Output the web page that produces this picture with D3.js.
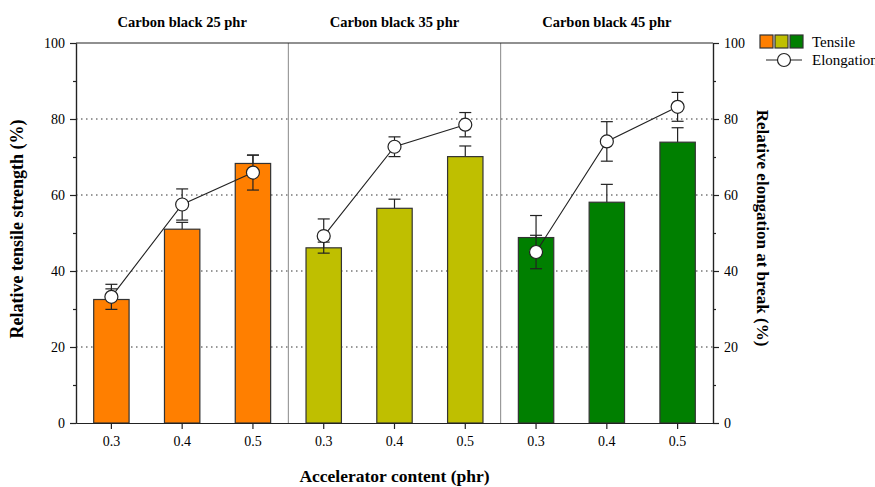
<!DOCTYPE html>
<html>
<head>
<meta charset="utf-8">
<script src="https://cdn.jsdelivr.net/npm/d3@7"></script>
<style>
  body { margin: 0; background: #fff; }
  svg { display: block; }
</style>
</head>
<body>
<div id="chart"></div>
<script>
// chart values
const groups = ["Carbon black 25 phr", "Carbon black 35 phr", "Carbon black 45 phr"];
const accelerator = ["0.3", "0.4", "0.5"];
const tensile = [32.5, 51.0, 68.3, 46.1, 56.5, 70.1, 48.8, 58.1, 73.9];
const tensileErr = [2.8, 1.8, 2.2, 1.5, 2.4, 2.8, 5.8, 4.7, 3.8];
const elongation = [33.2, 57.5, 65.9, 49.2, 72.7, 78.5, 45.0, 74.1, 83.2];
const elongationErr = [3.3, 4.1, 4.6, 4.5, 2.6, 3.2, 4.4, 5.2, 3.8];
const groupColors = ["#ff7f00", "#bfbf00", "#007f00"];
const yTicks = [0, 20, 40, 60, 80, 100];

// appearance settings
const settings = {
  width: 875,
  height: 487,
  left: 76,
  right: 713,
  top: 43,
  bottom: 423,
  font: "'Liberation Serif', 'Times New Roman', serif",
  capWidth: 12,
  circleRadius: 6.5,
};

function drawChart() {
  const svg = d3.select("#chart").append("svg")
    .attr("width", settings.width)
    .attr("height", settings.height)
    .style("font-family", settings.font);

  // one row per bar position
  const rows = [];
  groups.forEach((g, gi) => {
    accelerator.forEach((a, ai) => {
      const i = gi * accelerator.length + ai;
      rows.push({
        key: gi + "-" + a, group: gi, label: a,
        tensile: tensile[i], tErr: tensileErr[i],
        elong: elongation[i], eErr: elongationErr[i],
      });
    });
  });

  const x = d3.scaleBand()
    .domain(rows.map(d => d.key))
    .range([settings.left, settings.right])
    .paddingInner(0.5)
    .paddingOuter(0.25);
  const y = d3.scaleLinear().domain([0, 100]).range([settings.bottom, settings.top]);
  const y2 = d3.scaleLinear().domain([0, 100]).range([settings.bottom, settings.top]);
  const step = x.step();
  const cx = d => x(d.key) + x.bandwidth() / 2;

  // dotted grid lines
  svg.append("g").selectAll("line")
    .data([20, 40, 60, 80])
    .join("line")
    .attr("x1", settings.left).attr("x2", settings.right)
    .attr("y1", d => y(d)).attr("y2", d => y(d))
    .attr("stroke", "#333")
    .attr("stroke-width", 1)
    .attr("stroke-dasharray", "1.5,3.5");

  // group separators
  const seps = [1, 2].map(k => settings.left + step * 3 * k);
  svg.append("g").selectAll("line")
    .data(seps)
    .join("line")
    .attr("x1", d => d).attr("x2", d => d)
    .attr("y1", settings.top).attr("y2", settings.bottom)
    .attr("stroke", "#888").attr("stroke-width", 1);

  // tensile error bars (upward only)
  const tErrG = svg.append("g").attr("stroke", "#222").attr("stroke-width", 1.2);
  tErrG.selectAll("line.v").data(rows).join("line").attr("class", "v")
    .attr("x1", cx).attr("x2", cx)
    .attr("y1", d => y(d.tensile)).attr("y2", d => y(d.tensile + d.tErr));
  tErrG.selectAll("line.c").data(rows).join("line").attr("class", "c")
    .attr("x1", d => cx(d) - settings.capWidth / 2).attr("x2", d => cx(d) + settings.capWidth / 2)
    .attr("y1", d => y(d.tensile + d.tErr)).attr("y2", d => y(d.tensile + d.tErr));

  // bars
  svg.append("g").selectAll("rect")
    .data(rows)
    .join("rect")
    .attr("x", d => x(d.key))
    .attr("y", d => y(d.tensile))
    .attr("width", x.bandwidth())
    .attr("height", d => y(0) - y(d.tensile))
    .attr("fill", d => groupColors[d.group])
    .attr("stroke", "#333")
    .attr("stroke-width", 1.2);

  // elongation error bars
  const eErrG = svg.append("g").attr("stroke", "#222").attr("stroke-width", 1.2);
  eErrG.selectAll("line.v").data(rows).join("line").attr("class", "v")
    .attr("x1", cx).attr("x2", cx)
    .attr("y1", d => y2(d.elong - d.eErr)).attr("y2", d => y2(d.elong + d.eErr));
  eErrG.selectAll("line.hi").data(rows).join("line").attr("class", "hi")
    .attr("x1", d => cx(d) - settings.capWidth / 2).attr("x2", d => cx(d) + settings.capWidth / 2)
    .attr("y1", d => y2(d.elong + d.eErr)).attr("y2", d => y2(d.elong + d.eErr));
  eErrG.selectAll("line.lo").data(rows).join("line").attr("class", "lo")
    .attr("x1", d => cx(d) - settings.capWidth / 2).attr("x2", d => cx(d) + settings.capWidth / 2)
    .attr("y1", d => y2(d.elong - d.eErr)).attr("y2", d => y2(d.elong - d.eErr));

  // elongation lines, one per group
  const line = d3.line().x(cx).y(d => y2(d.elong));
  svg.append("g").selectAll("path")
    .data(groups.map((g, gi) => rows.filter(r => r.group === gi)))
    .join("path")
    .attr("d", line)
    .attr("fill", "none")
    .attr("stroke", "#222")
    .attr("stroke-width", 1.1);

  svg.append("g").selectAll("circle")
    .data(rows)
    .join("circle")
    .attr("cx", cx)
    .attr("cy", d => y2(d.elong))
    .attr("r", settings.circleRadius)
    .attr("fill", "#fff")
    .attr("stroke", "#222")
    .attr("stroke-width", 1.2);

  // frame top line
  svg.append("line")
    .attr("x1", settings.left).attr("x2", settings.right)
    .attr("y1", settings.top).attr("y2", settings.top)
    .attr("stroke", "#222").attr("stroke-width", 1.2);

  // axes
  const minor = d3.range(10, 100, 20);
  const styleAxis = g => {
    g.selectAll(".domain").attr("stroke", "#222").attr("stroke-width", 1.2);
    g.selectAll(".tick line").attr("stroke", "#222").attr("stroke-width", 1.2);
    g.selectAll("text").style("font-family", settings.font).style("font-size", "14px").attr("fill", "#000");
  };

  svg.append("g")
    .attr("transform", `translate(${settings.left},0)`)
    .call(d3.axisLeft(y).tickValues(yTicks).tickSize(6).tickSizeOuter(0).tickPadding(5))
    .call(styleAxis);
  svg.append("g")
    .attr("transform", `translate(${settings.left},0)`)
    .call(d3.axisLeft(y).tickValues(minor).tickSize(3).tickFormat("").tickSizeOuter(0))
    .call(styleAxis);

  svg.append("g")
    .attr("transform", `translate(${settings.right},0)`)
    .call(d3.axisRight(y2).tickValues(yTicks).tickSize(6).tickSizeOuter(0).tickPadding(5))
    .call(styleAxis);
  svg.append("g")
    .attr("transform", `translate(${settings.right},0)`)
    .call(d3.axisRight(y2).tickValues(minor).tickSize(3).tickFormat("").tickSizeOuter(0))
    .call(styleAxis);

  svg.append("g")
    .attr("transform", `translate(0,${settings.bottom})`)
    .call(d3.axisBottom(x).tickSize(6).tickSizeOuter(0).tickPadding(7)
      .tickFormat(k => rows.find(r => r.key === k).label))
    .call(styleAxis);

  // group titles
  svg.append("g").selectAll("text")
    .data(groups)
    .join("text")
    .attr("x", (d, gi) => settings.left + step * (3 * gi + 1.5))
    .attr("y", 27)
    .attr("text-anchor", "middle")
    .style("font-size", "14.5px")
    .style("font-weight", "bold")
    .text(d => d);

  // axis titles
  svg.append("text")
    .attr("transform", `translate(23,${(settings.top + settings.bottom) / 2 - 4}) rotate(-90)`)
    .attr("text-anchor", "middle")
    .style("font-size", "18px")
    .style("font-weight", "bold")
    .text("Relative tensile strength (%)");

  svg.append("text")
    .attr("transform", `translate(757,${(settings.top + settings.bottom) / 2 - 5}) rotate(90)`)
    .attr("text-anchor", "middle")
    .style("font-size", "17px")
    .style("font-weight", "bold")
    .text("Relative elongation at break (%)");

  svg.append("text")
    .attr("x", (settings.left + settings.right) / 2)
    .attr("y", 482)
    .attr("text-anchor", "middle")
    .style("font-size", "17.5px")
    .style("font-weight", "bold")
    .text("Accelerator content (phr)");

  // legend
  const legend = svg.append("g").attr("transform", "translate(760,35)");
  legend.selectAll("rect")
    .data(groupColors)
    .join("rect")
    .attr("x", (d, i) => i * 15)
    .attr("y", 0)
    .attr("width", 13)
    .attr("height", 13)
    .attr("fill", d => d)
    .attr("stroke", "#333")
    .attr("stroke-width", 1.2);
  legend.append("text")
    .attr("x", 52).attr("y", 12)
    .style("font-size", "15px")
    .text("Tensile");
  legend.append("line")
    .attr("x1", 6).attr("x2", 42)
    .attr("y1", 25).attr("y2", 25)
    .attr("stroke", "#222").attr("stroke-width", 1.1);
  legend.append("circle")
    .attr("cx", 24).attr("cy", 25).attr("r", settings.circleRadius)
    .attr("fill", "#fff").attr("stroke", "#222").attr("stroke-width", 1.2);
  legend.append("text")
    .attr("x", 52).attr("y", 30)
    .style("font-size", "15px")
    .text("Elongation");
}

drawChart();
</script>
</body>
</html>
